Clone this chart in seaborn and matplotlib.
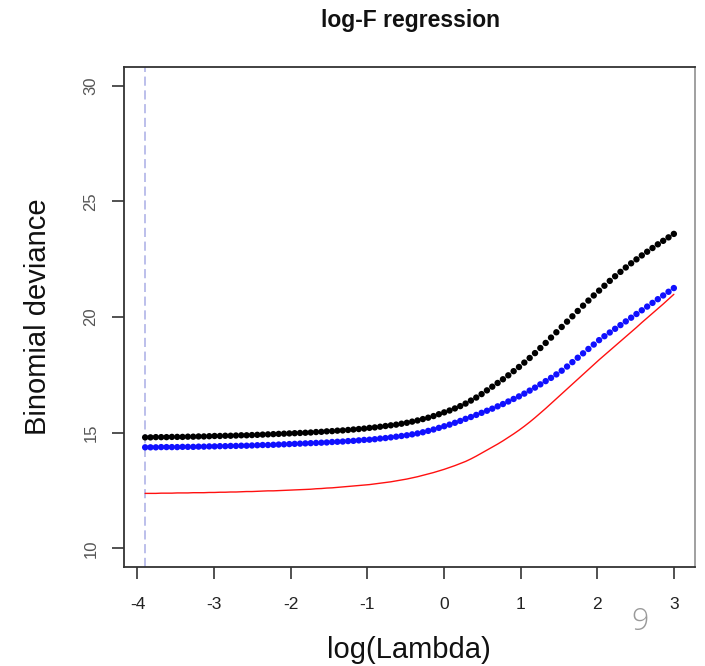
import numpy as np
import pandas as pd
import matplotlib
matplotlib.use("Agg")
import matplotlib.pyplot as plt
import seaborn as sns

# ---- data ----
log_lambda = np.linspace(-3.9, 3.0, 100)

cv_upper = [14.80, 14.80, 14.81, 14.81, 14.81, 14.82, 14.82, 14.82, 14.83, 14.83,
            14.84, 14.84, 14.85, 14.86, 14.86, 14.87, 14.87, 14.88, 14.89, 14.89,
            14.90, 14.91, 14.92, 14.93, 14.94, 14.95, 14.96, 14.97, 14.98, 14.99,
            15.00, 15.01, 15.03, 15.04, 15.06, 15.07, 15.09, 15.10, 15.12, 15.14,
            15.16, 15.18, 15.21, 15.23, 15.26, 15.29, 15.32, 15.35, 15.39, 15.43,
            15.48, 15.53, 15.59, 15.65, 15.72, 15.80, 15.88, 15.96, 16.05, 16.15,
            16.26, 16.39, 16.52, 16.67, 16.83, 16.99, 17.15, 17.31, 17.48, 17.66,
            17.84, 18.03, 18.23, 18.44, 18.66, 18.88, 19.11, 19.34, 19.57, 19.80,
            20.03, 20.26, 20.49, 20.71, 20.93, 21.14, 21.35, 21.56, 21.76, 21.95,
            22.14, 22.32, 22.49, 22.66, 22.82, 22.98, 23.14, 23.29, 23.44, 23.59]

cv_mean = [14.37, 14.37, 14.37, 14.38, 14.38, 14.38, 14.38, 14.39, 14.39, 14.39,
           14.40, 14.40, 14.41, 14.41, 14.42, 14.42, 14.43, 14.43, 14.44, 14.44,
           14.45, 14.46, 14.47, 14.47, 14.48, 14.49, 14.50, 14.51, 14.52, 14.53,
           14.54, 14.55, 14.56, 14.57, 14.58, 14.60, 14.61, 14.62, 14.64, 14.65,
           14.67, 14.69, 14.70, 14.72, 14.75, 14.77, 14.80, 14.83, 14.86, 14.89,
           14.93, 14.97, 15.02, 15.08, 15.14, 15.21, 15.28, 15.35, 15.43, 15.51,
           15.60, 15.68, 15.77, 15.86, 15.95, 16.04, 16.14, 16.24, 16.35, 16.46,
           16.57, 16.69, 16.82, 16.95, 17.09, 17.23, 17.37, 17.52, 17.68, 17.86,
           18.05, 18.24, 18.43, 18.62, 18.81, 19.00, 19.17, 19.33, 19.49, 19.65,
           19.81, 19.97, 20.13, 20.29, 20.45, 20.61, 20.77, 20.93, 21.09, 21.25]

fit_dev = [12.38, 12.38, 12.38, 12.39, 12.39, 12.39, 12.40, 12.40, 12.40, 12.41,
           12.41, 12.41, 12.42, 12.42, 12.43, 12.43, 12.44, 12.44, 12.45, 12.46,
           12.46, 12.47, 12.48, 12.49, 12.49, 12.50, 12.51, 12.52, 12.53, 12.54,
           12.55, 12.56, 12.58, 12.59, 12.61, 12.62, 12.64, 12.66, 12.68, 12.70,
           12.72, 12.74, 12.76, 12.79, 12.82, 12.85, 12.88, 12.92, 12.96, 13.00,
           13.05, 13.10, 13.16, 13.22, 13.28, 13.35, 13.42, 13.50, 13.58, 13.67,
           13.76, 13.87, 13.99, 14.12, 14.25, 14.38, 14.51, 14.65, 14.80, 14.95,
           15.11, 15.28, 15.46, 15.65, 15.85, 16.05, 16.26, 16.47, 16.68, 16.89,
           17.10, 17.31, 17.52, 17.73, 17.94, 18.15, 18.35, 18.55, 18.75, 18.95,
           19.15, 19.35, 19.55, 19.76, 19.96, 20.16, 20.36, 20.56, 20.77, 20.98]

vline_x = -3.9
x_ticks = [-4, -3, -2, -1, 0, 1, 2, 3]
y_ticks = [10, 15, 20, 25, 30]
title = "log-F regression"
xlabel = "log(Lambda)"
ylabel = "Binomial deviance"
page_no = "9"

df = pd.DataFrame({"x": log_lambda, "upper": cv_upper, "mean": cv_mean, "fit": fit_dev})

sns.set_style("white")
plt.rcParams["font.family"] = ["Liberation Sans", "DejaVu Sans"]

fig = plt.figure(figsize=(7.05, 6.66), dpi=100)
ax = fig.add_axes([124 / 705, 1 - 567 / 666, (695 - 124) / 705, (567 - 67) / 666])

ax.axvline(vline_x, color="#a9aee6", lw=1.1, ls=(0, (6, 3)), zorder=1)
sns.lineplot(data=df, x="x", y="fit", ax=ax, color="#ff1010", lw=1.0, zorder=2)
sns.scatterplot(data=df, x="x", y="upper", ax=ax, color="black", s=21,
                edgecolor="none", zorder=3)
sns.scatterplot(data=df, x="x", y="mean", ax=ax, color="#1010ff", s=21,
                edgecolor="none", zorder=3)

ax.set_xlim(-4.176, 3.276)
ax.set_ylim(9.2, 30.8)
ax.set_xticks(x_ticks)
ax.set_xticklabels([str(t) for t in x_ticks], fontsize=12.5, color="#222222")
ax.set_yticks(y_ticks)
ax.set_yticklabels([str(t) for t in y_ticks], fontsize=12, color="#555555",
                   rotation=90, va="center")
ax.tick_params(axis="both", direction="out", length=8.5, width=1.2, color="#333333",
               bottom=True, left=True)
ax.tick_params(axis="x", pad=13)
ax.tick_params(axis="y", pad=10)
for sp in ax.spines.values():
    sp.set_visible(True)
    sp.set_color("#333333")
    sp.set_linewidth(1.3)
ax.spines["right"].set_color("#999999")

ax.set_xlabel("")
ax.set_ylabel("")
fig.text(409 / 705, 1 - 650 / 666, xlabel, fontsize=21, ha="center", va="center", color="#111111")
fig.text(38 / 705, 1 - 317 / 666, ylabel, fontsize=21, ha="center", va="center",
         rotation=90, color="#111111")
fig.text(411 / 705, 1 - 21 / 666, title, fontsize=16.5, fontweight="bold",
         ha="center", va="center", color="#111111")
fig.text(640 / 705, 1 - 622 / 666, page_no, fontsize=22, ha="center", va="center",
         color="#9a9a9a", family=["Open Sans", "DejaVu Sans"], fontweight="light")

fig.savefig("out.png", dpi=100)
